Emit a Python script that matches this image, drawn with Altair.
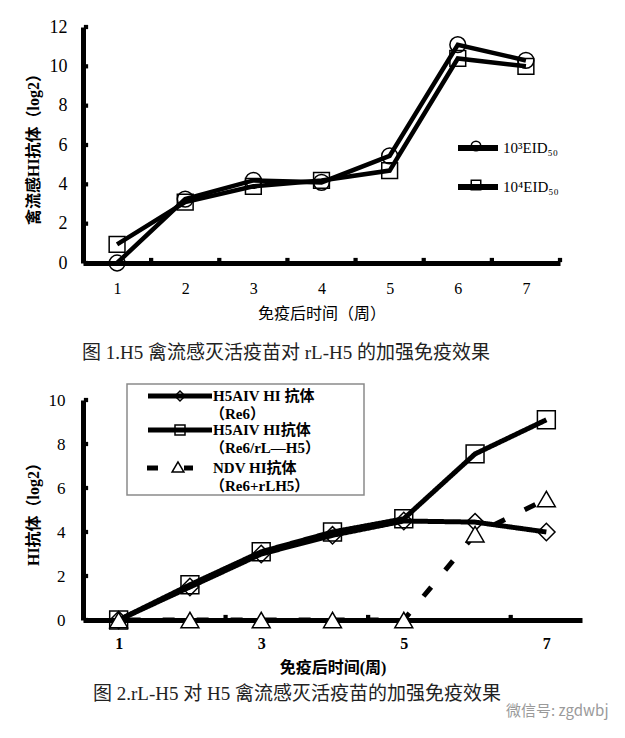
import altair as alt
import pandas as pd

# ---------------- data ----------------
weeks = [1, 2, 3, 4, 5, 6, 7]

fig1_series = ["10³EID₅₀", "10⁴EID₅₀"]
fig1_circle = [0.0, 3.25, 4.2, 4.1, 5.45, 11.1, 10.3]
fig1_square = [0.95, 3.1, 3.9, 4.2, 4.7, 10.4, 10.0]
fig1_y_ticks = [0, 2, 4, 6, 8, 10, 12]
fig1_x_marks = [1.5, 2.5, 3.5, 4.5, 5.5, 6.5, 7.5]

fig2_series = ["H5AIV HI 抗体（Re6）", "H5AIV HI抗体（Re6/rL—H5）", "NDV HI抗体（Re6+rLH5）"]
fig2_legend_main = ["H5AIV HI 抗体", "H5AIV HI抗体", "NDV HI抗体"]
fig2_legend_sub = ["（Re6）", "（Re6/rL—H5）", "（Re6+rLH5）"]
fig2_diamond = [0.0, 1.5, 3.0, 3.85, 4.5, 4.45, 4.0]
fig2_square = [0.0, 1.6, 3.1, 4.0, 4.6, 7.55, 9.1]
fig2_triangle = [0.0, 0.0, 0.0, 0.0, 0.0, 3.9, 5.5]
fig2_x_labels = [1, 3, 5, 7]
fig2_y_ticks = [0, 2, 4, 6, 8, 10]
fig2_x_marks = [2.5, 4.5, 6.5]

caption1 = "图 1.H5 禽流感灭活疫苗对 rL-H5 的加强免疫效果"
caption2 = "图 2.rL-H5 对 H5 禽流感灭活疫苗的加强免疫效果"
watermark = "微信号: zgdwbj"

SERIF = "Liberation Serif, Noto Sans CJK SC"
SANS = "Noto Sans CJK SC"
one = pd.DataFrame({"k": [0]})


def make_axis(values, title, title_bold, label_bold, label_pad, title_pad, label_size=17):
    return alt.Axis(
        values=values, format="d", title=title, grid=False, ticks=False, tickSize=0,
        domain=True, domainColor="black", domainWidth=5, domainOpacity=1,
        labelFont=SERIF, labelFontSize=label_size,
        labelColor="black", labelFontWeight="bold" if label_bold else "normal",
        labelPadding=label_pad, titleFont=SERIF, titleFontSize=16, titleColor="black",
        titleFontWeight="bold" if title_bold else "normal", titlePadding=title_pad,
        labelOverlap=False,
    )


# ---------------- figure 1 ----------------
W1, H1 = 477, 236
xs1 = alt.Scale(domain=[0.5, 7.5], nice=False, zero=False)
ys1 = alt.Scale(domain=[0, 12], nice=False)
X1 = alt.X("week:Q", scale=xs1, axis=make_axis(weeks, "免疫后时间（周）", False, False, 17, 9, 16))
Y1 = alt.Y("val:Q", scale=ys1, axis=make_axis(fig1_y_ticks, "禽流感HI抗体（log2）", True, False, 16, 8, 18))

df1 = pd.DataFrame({
    "week": weeks * 2,
    "val": fig1_circle + fig1_square,
    "s": [fig1_series[0]] * 7 + [fig1_series[1]] * 7,
})
shape1 = alt.Scale(domain=fig1_series, range=["circle", "square"])

lines1 = alt.Chart(df1).mark_line(color="black", strokeWidth=4.5).encode(x=X1, y=Y1, detail="s:N")
pts1 = alt.Chart(df1).mark_point(filled=False, color="black", strokeWidth=1.5, size=250, opacity=1).encode(
    x=X1, y=Y1, shape=alt.Shape("s:N", scale=shape1, legend=None))
yt1 = alt.Chart(pd.DataFrame({"week": [0.5] * len(fig1_y_ticks), "val": fig1_y_ticks})).mark_square(
    size=18, color="black", opacity=1, xOffset=3).encode(x=X1, y=Y1)
xt1 = alt.Chart(pd.DataFrame({"week": fig1_x_marks, "val": [0] * len(fig1_x_marks)})).mark_square(
    size=18, color="black", opacity=1, yOffset=-3).encode(x=X1, y=Y1)

leg1 = []
for lab, shp, ypx in zip(fig1_series, ["circle", "square"], [121, 160]):
    leg1.append(alt.Chart(one).mark_rule(color="black", strokeWidth=6).encode(
        x=alt.value(375), x2=alt.value(415), y=alt.value(ypx)))
    leg1.append(alt.Chart(one).mark_point(shape=shp, filled=False, color="black", strokeWidth=1.5,
                                          size=90, opacity=1).encode(x=alt.value(393), y=alt.value(ypx - 2)))
    leg1.append(alt.Chart(one).mark_text(text=lab, align="left", baseline="middle", font=SERIF,
                                         fontSize=15, color="black").encode(x=alt.value(420), y=alt.value(ypx)))

cap1 = alt.Chart(one).mark_text(text=caption1, align="center", baseline="middle", font=SERIF,
                                fontSize=19, color="#222").encode(x=alt.value(203), y=alt.value(326))

chart1 = alt.layer(lines1, pts1, yt1, xt1, *leg1, cap1).properties(width=W1, height=H1)

# ---------------- figure 2 ----------------
W2, H2 = 499, 220
xs2 = alt.Scale(domain=[0.5, 7.5], nice=False, zero=False)
ys2 = alt.Scale(domain=[0, 10], nice=False)
X2 = alt.X("week:Q", scale=xs2, axis=make_axis(fig2_x_labels, "免疫后时间(周)", True, True, 15, 8, 16))
Y2 = alt.Y("val:Q", scale=ys2, axis=make_axis(fig2_y_ticks, "HI抗体（log2）", True, False, 18, 7, 17))

box = alt.Chart(one).mark_rect(fill="white", stroke="#8a8a8a", strokeWidth=1.5).encode(
    x=alt.value(44), x2=alt.value(281), y=alt.value(-16), y2=alt.value(95))

layers2 = [box]
vals2 = [fig2_diamond, fig2_square, fig2_triangle]
shapes2 = ["diamond", "square", "triangle-up"]
sizes2 = [300, 320, 320]
for name, vals, dash in zip(fig2_series, vals2, [[1, 0], [1, 0], [12, 22]]):
    d = pd.DataFrame({"week": weeks, "val": vals, "s": [name] * 7})
    layers2.append(alt.Chart(d).mark_line(color="black", strokeWidth=5, strokeDash=dash,
                                          strokeDashOffset=24 if dash[1] else 0).encode(x=X2, y=Y2))
for name, vals, shp, sz in zip(fig2_series, vals2, shapes2, sizes2):
    d = pd.DataFrame({"week": weeks, "val": vals, "s": [name] * 7})
    if shp == "triangle-up":
        m = alt.Chart(d).mark_point(shape=shp, filled=True, fill="white", stroke="black",
                                    strokeWidth=1.5, size=sz, opacity=1)
    else:
        m = alt.Chart(d).mark_point(shape=shp, filled=False, color="black", strokeWidth=1.5,
                                    size=sz, opacity=1)
    layers2.append(m.encode(x=X2, y=Y2))

layers2.append(alt.Chart(pd.DataFrame({"week": [0.5] * len(fig2_y_ticks), "val": fig2_y_ticks})).mark_square(
    size=18, color="black", opacity=1, xOffset=3).encode(x=X2, y=Y2))
layers2.append(alt.Chart(pd.DataFrame({"week": fig2_x_marks, "val": [0] * len(fig2_x_marks)})).mark_square(
    size=18, color="black", opacity=1, yOffset=-3).encode(x=X2, y=Y2))

# legend entries
ly = [-4, 30, 68]
for i, (main, sub, shp, ypx) in enumerate(zip(fig2_legend_main, fig2_legend_sub, shapes2, ly)):
    if i < 2:
        layers2.append(alt.Chart(one).mark_rule(color="black", strokeWidth=5).encode(
            x=alt.value(65), x2=alt.value(129), y=alt.value(ypx)))
        layers2.append(alt.Chart(one).mark_point(shape=shp, filled=False, color="black", strokeWidth=1.5,
                                                 size=100, opacity=1).encode(x=alt.value(97), y=alt.value(ypx)))
    else:
        layers2.append(alt.Chart(one).mark_rule(color="black", strokeWidth=5).encode(
            x=alt.value(64), x2=alt.value(75), y=alt.value(ypx)))
        layers2.append(alt.Chart(one).mark_rule(color="black", strokeWidth=5).encode(
            x=alt.value(101), x2=alt.value(110), y=alt.value(ypx)))
        layers2.append(alt.Chart(one).mark_point(shape=shp, filled=True, fill="white", stroke="black",
                                                 strokeWidth=1.5, size=140, opacity=1).encode(
            x=alt.value(95), y=alt.value(ypx - 1)))
    layers2.append(alt.Chart(one).mark_text(text=main, align="left", baseline="middle", font=SERIF,
                                            fontSize=15, fontWeight="bold", color="black").encode(
        x=alt.value(130), y=alt.value(ypx)))
    layers2.append(alt.Chart(one).mark_text(text=sub, align="left", baseline="middle", font=SERIF,
                                            fontSize=15, fontWeight="bold", color="black").encode(
        x=alt.value(127), y=alt.value(ypx + 18)))

layers2.append(alt.Chart(one).mark_text(text=caption2, align="center", baseline="middle", font=SERIF,
                                        fontSize=19, color="#222").encode(x=alt.value(214), y=alt.value(294)))
layers2.append(alt.Chart(one).mark_text(text=watermark, align="left", baseline="middle", font=SANS,
                                        fontSize=15, color="#9a9a9a").encode(x=alt.value(423), y=alt.value(311)))

chart2 = alt.layer(*layers2).properties(width=W2, height=H2)

chart = alt.vconcat(chart1, chart2, spacing=20).properties(
    padding={"left": 17, "top": 10, "right": 5, "bottom": 5}, background="white"
).configure_view(strokeWidth=0).configure_axis(
    domainColor="black", domainWidth=5, domainOpacity=1, grid=False, ticks=False
)

chart.save("out.html", embed_options={"renderer": "svg", "actions": False})
